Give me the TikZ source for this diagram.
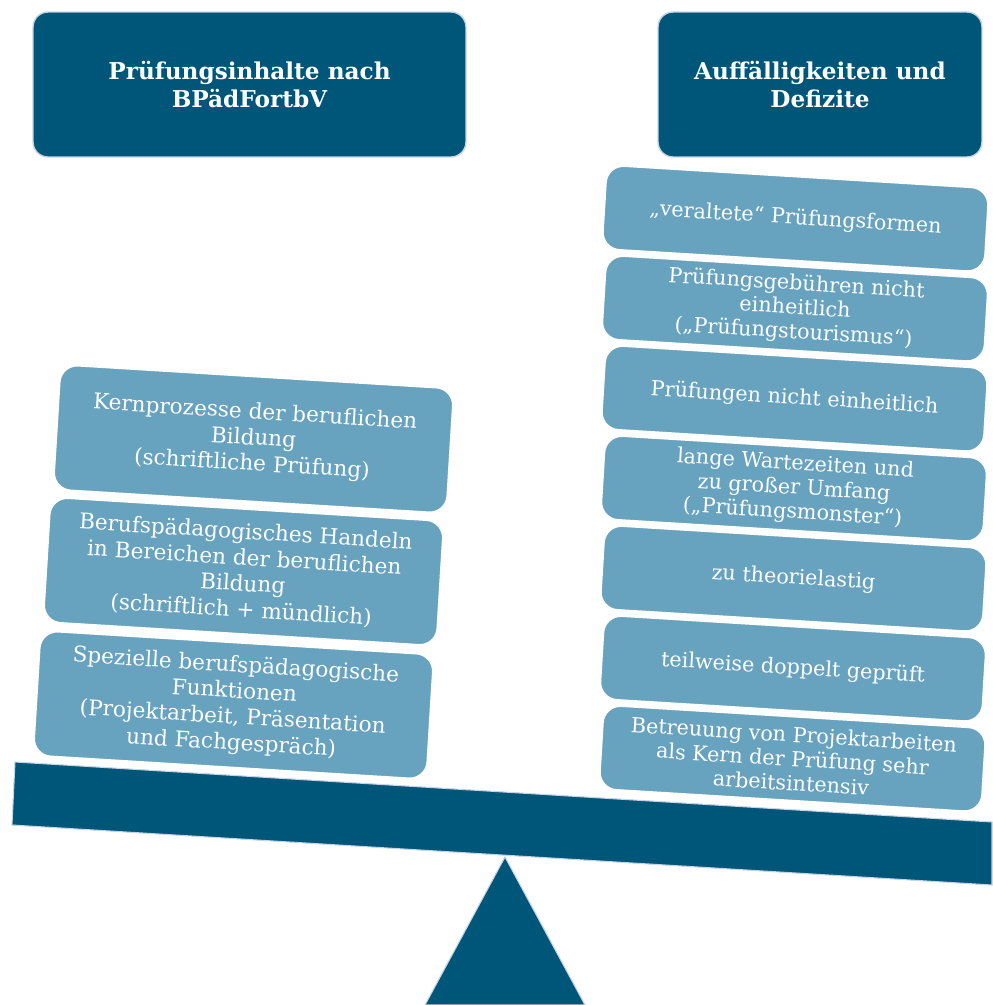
\documentclass[tikz,border=0pt]{standalone}
\usepackage{fontspec}
\setmainfont{DejaVu Serif}
\usepackage{xcolor}
\definecolor{beamblue}{RGB}{0,86,120}
\definecolor{panblue}{RGB}{103,162,190}
\definecolor{rimblue}{RGB}{196,210,228}

\begin{document}
\begin{tikzpicture}[x=0.02cm, y=-0.02cm,
    headbox/.style={fill=beamblue, draw=rimblue, line width=0.8pt, rounded corners=0.3cm,
        minimum height=2.9cm, align=center, text=white,
        font=\bfseries\fontsize{13.2}{16.4}\selectfont},
    leftpan/.style={fill=panblue, draw=white, line width=1pt, rounded corners=0.35cm, rotate=-3.5,
        minimum width=7.88cm, minimum height=2.5cm, align=center, text=white,
        font=\fontsize{12.3}{14.8}\selectfont},
    rightpan/.style={fill=panblue, draw=white, line width=1pt, rounded corners=0.35cm, rotate=-3.5,
        minimum width=7.66cm, minimum height=1.68cm, align=center, text=white,
        font=\fontsize{11.8}{13.8}\selectfont}]
    \useasboundingbox (0,0) rectangle (992,1005);

    % Fulcrum and beam
    \fill[beamblue, draw=rimblue, line width=0.6pt] (505,857) -- (585,1005) -- (425,1005) -- cycle;
    \fill[beamblue, draw=rimblue, line width=0.6pt] (15,762) -- (992,822) -- (992,885) -- (12,825) -- cycle;

    % Headers
    \node[headbox, minimum width=8.66cm] (head-left) at (249.5,84.5) {Prüfungsinhalte nach\\BPädFortbV};
    \node[headbox, minimum width=6.48cm] (head-right) at (820,84.5) {Auffälligkeiten und\\Defizite};

    % Left pan: exam contents
    \node[leftpan] (kern) at (253.5,439) {Kernprozesse der beruflichen\\Bildung\\(schriftliche Prüfung)};
    \node[leftpan] (handeln) at (243.5,571.5) {Berufspädagogisches Handeln\\in Bereichen der beruflichen\\Bildung\\(schriftlich + mündlich)};
    \node[leftpan] (funktionen) at (233.5,705) {Spezielle berufspädagogische\\Funktionen\\(Projektarbeit, Präsentation\\und Fachgespräch)};

    % Right pan: deficits
    \node[rightpan] (veraltet) at (795.5,218.6) {„veraltete“ Prüfungsformen};
    \node[rightpan] (gebuehren) at (795,308.6) {Prüfungsgebühren nicht\\einheitlich\\(„Prüfungstourismus“)};
    \node[rightpan] (uneinheitlich) at (794.5,398.6) {Prüfungen nicht einheitlich};
    \node[rightpan] (wartezeit) at (794,488.6) {lange Wartezeiten und\\zu großer Umfang\\(„Prüfungsmonster“)};
    \node[rightpan] (theorie) at (793.5,578.6) {zu theorielastig};
    \node[rightpan] (doppelt) at (793,668.6) {teilweise doppelt geprüft};
    \node[rightpan] (betreuung) at (792.5,758.6) {Betreuung von Projektarbeiten\\als Kern der Prüfung sehr\\arbeitsintensiv};
\end{tikzpicture}
\end{document}
